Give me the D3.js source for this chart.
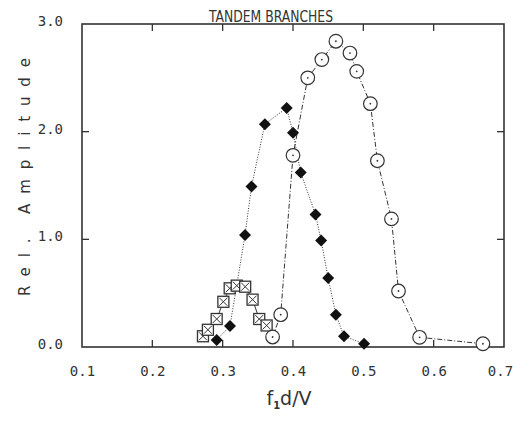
<!DOCTYPE html>
<html>
<head>
<meta charset="utf-8">
<script src="https://cdn.jsdelivr.net/npm/d3@7"></script>
<style>
  body { margin: 0; background: #fff; }
  text { fill: #333; }
</style>
</head>
<body>
<div id="chart"></div>
<script>
// tick values
var xTicks = [0.1, 0.2, 0.3, 0.4, 0.5, 0.6, 0.7];
var yTicks = [0.0, 1.0, 2.0, 3.0];

// boxed-X series (solid line)
var squareX = [0.272, 0.279, 0.2915, 0.301, 0.310, 0.320, 0.332, 0.3425, 0.352, 0.3625];
var squareY = [0.10, 0.16, 0.26, 0.42, 0.545, 0.57, 0.56, 0.44, 0.26, 0.20];

// filled diamond series (dotted line)
var diamondX = [0.2915, 0.3104, 0.3318, 0.341, 0.360, 0.391, 0.400, 0.411, 0.432, 0.440, 0.450, 0.461, 0.4725, 0.501];
var diamondY = [0.065, 0.195, 1.04, 1.49, 2.07, 2.22, 1.99, 1.62, 1.23, 0.99, 0.64, 0.30, 0.10, 0.03];

// open circle series (dash-dot line)
var circleX = [0.371, 0.3825, 0.400, 0.421, 0.441, 0.461, 0.481, 0.4906, 0.510, 0.520, 0.540, 0.550, 0.580, 0.670];
var circleY = [0.093, 0.30, 1.78, 2.50, 2.67, 2.84, 2.73, 2.56, 2.26, 1.73, 1.19, 0.52, 0.09, 0.03];

(function(){
    var width = 513, height = 421;
    var left = 82, right = 504, top = 24, bottom = 347;
    var ink = "#333";

    var svg = d3.select("#chart").append("svg")
        .attr("width", width)
        .attr("height", height);

    var x = d3.scaleLinear().domain([0.1, 0.7]).range([left, right]);
    var y = d3.scaleLinear().domain([0, 3]).range([bottom, top]);

    function zip(xs, ys){
        return xs.map(function(v, i){ return {x: v, y: ys[i]}; });
    }
    var squares = zip(squareX, squareY);
    var diamonds = zip(diamondX, diamondY);
    var circles = zip(circleX, circleY);

    // tick labels (no tick marks)
    var fmt = d3.format(".1f");
    var gx = svg.append("g")
        .attr("transform", "translate(0," + bottom + ")")
        .call(d3.axisBottom(x).tickValues(xTicks).tickSize(0).tickPadding(19).tickFormat(fmt));
    var gy = svg.append("g")
        .attr("transform", "translate(" + left + ",0)")
        .call(d3.axisLeft(y).tickValues(yTicks).tickSize(0).tickPadding(19).tickFormat(fmt));
    [gx, gy].forEach(function(g){
        g.select(".domain").remove();
        g.selectAll("text")
            .style("font-family", "'DejaVu Sans Mono', monospace")
            .style("font-size", "14px")
            .style("fill", ink);
    });
    gy.selectAll("text").attr("dy", "0.1em");
    // keep the last label inside the window
    gx.selectAll("text").filter(function(d){ return d === 0.7; }).attr("dx", -4);

    // inward ticks on all four sides
    var inner = xTicks.slice(1, -1), innerY = yTicks.slice(1, -1);
    var tk = svg.append("g").attr("stroke", ink).attr("stroke-width", 1.3);
    tk.selectAll(".tb").data(inner).enter().append("line")
        .attr("x1", function(d){ return x(d); }).attr("x2", function(d){ return x(d); })
        .attr("y1", bottom).attr("y2", bottom - 7);
    tk.selectAll(".tt").data(inner).enter().append("line")
        .attr("x1", function(d){ return x(d); }).attr("x2", function(d){ return x(d); })
        .attr("y1", top).attr("y2", top + 7);
    tk.selectAll(".tl").data(innerY).enter().append("line")
        .attr("y1", function(d){ return y(d); }).attr("y2", function(d){ return y(d); })
        .attr("x1", left).attr("x2", left + 7);
    tk.selectAll(".tr").data(innerY).enter().append("line")
        .attr("y1", function(d){ return y(d); }).attr("y2", function(d){ return y(d); })
        .attr("x1", right).attr("x2", right - 7);

    // frame
    svg.append("rect")
        .attr("x", left).attr("y", top)
        .attr("width", right - left).attr("height", bottom - top)
        .attr("fill", "none").attr("stroke", ink).attr("stroke-width", 1.6);

    var line = d3.line().x(function(d){ return x(d.x); }).y(function(d){ return y(d.y); });

    svg.append("path").datum(squares).attr("d", line)
        .attr("fill", "none").attr("stroke", ink).attr("stroke-width", 1);
    svg.append("path").datum(diamonds).attr("d", line)
        .attr("fill", "none").attr("stroke", ink).attr("stroke-width", 1)
        .attr("stroke-dasharray", "1,1.6");
    svg.append("path").datum(circles).attr("d", line)
        .attr("fill", "none").attr("stroke", ink).attr("stroke-width", 1)
        .attr("stroke-dasharray", "5,2,1,2");

    // boxed X markers
    var sq = svg.selectAll(".sq").data(squares).enter().append("g")
        .attr("transform", function(d){ return "translate(" + x(d.x) + "," + y(d.y) + ")"; });
    sq.append("rect")
        .attr("x", -5.5).attr("y", -5.5).attr("width", 11).attr("height", 11)
        .attr("fill", "#fff").attr("stroke", ink).attr("stroke-width", 1.3);
    sq.append("path")
        .attr("d", "M-4,-4L4,4M4,-4L-4,4")
        .attr("stroke", ink).attr("stroke-width", 1);

    // filled diamonds
    svg.selectAll(".dm").data(diamonds).enter().append("path")
        .attr("d", "M0,-6L6,0L0,6L-6,0Z")
        .attr("transform", function(d){ return "translate(" + x(d.x) + "," + y(d.y) + ")"; })
        .attr("fill", "#111");

    // open circles with centre dot
    var ci = svg.selectAll(".ci").data(circles).enter().append("g")
        .attr("transform", function(d){ return "translate(" + x(d.x) + "," + y(d.y) + ")"; });
    ci.append("circle").attr("r", 6.8)
        .attr("fill", "#fff").attr("stroke", ink).attr("stroke-width", 1.2);
    ci.append("circle").attr("r", 0.9).attr("fill", ink);

    // title
    svg.append("text")
        .attr("x", 209).attr("y", 21.5)
        .attr("textLength", 124).attr("lengthAdjust", "spacingAndGlyphs")
        .style("font-family", "'DejaVu Sans', sans-serif")
        .style("font-size", "15px")
        .text("TANDEM BRANCHES");

    // y axis title
    svg.append("text")
        .attr("transform", "translate(30," + 177 + ") rotate(-90)")
        .attr("x", -119).attr("y", 0)
        .attr("textLength", 238).attr("lengthAdjust", "spacing")
        .style("font-family", "'DejaVu Sans', sans-serif")
        .style("font-size", "15px")
        .text("Rel. Amplitude");

    // x axis title f1 d/V
    var xt = svg.append("text")
        .attr("x", 289).attr("y", 405)
        .attr("text-anchor", "middle")
        .style("font-family", "'DejaVu Sans', sans-serif")
        .style("font-size", "19px");
    xt.append("tspan").text("f");
    xt.append("tspan").attr("dy", 4).style("font-size", "10px").style("font-weight", "bold").text("1");
    xt.append("tspan").attr("dy", -4).text("d/V");
})();
</script>
</body>
</html>
